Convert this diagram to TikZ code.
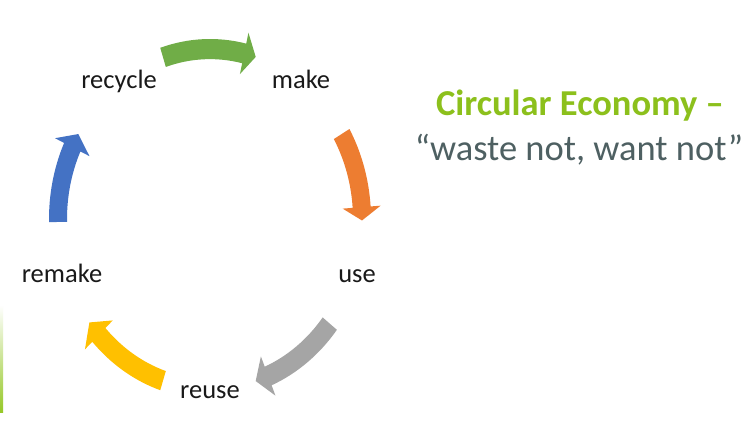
\documentclass[tikz,border=0pt]{standalone}
\usepackage{fontspec}
\setmainfont{Carlito}
\definecolor{agreen}{RGB}{112,173,71}
\definecolor{aorange}{RGB}{237,125,49}
\definecolor{agray}{RGB}{165,165,165}
\definecolor{ayellow}{RGB}{255,192,0}
\definecolor{ablue}{RGB}{68,114,196}
\definecolor{titlegreen}{RGB}{140,192,28}
\definecolor{subgray}{RGB}{78,96,98}
\definecolor{barlime}{RGB}{150,200,40}
\tikzset{
  lbl/.style={anchor=base, inner sep=0pt, text=black!90, font=\fontsize{26.5}{30}\selectfont},
  cyc/.style={fill=#1, draw=none},
}
\newcommand{\cycarrow}[4]{%
  \fill[cyc=#1] (#2:161) arc[start angle=#2, end angle=#3, radius=161]
    -- (#3:171) -- (#4:152) -- (#3:133) -- (#3:143)
    arc[start angle=#3, end angle=#2, radius=143] -- cycle;}
\begin{document}
\begin{tikzpicture}[x=1pt, y=-1pt]
\useasboundingbox (0,0) rectangle (752,442);
\fill[white] (0,0) rectangle (752,442);
% left accent bar
\shade[top color=white, bottom color=barlime] (0,305) rectangle (3,412);
% cycle arrows
\begin{scope}[shift={(210,219)}, x=1pt, y=1.118pt]
  \cycarrow{agreen}{108}{77}{72.5}
  \cycarrow{aorange}{30}{4}{-0.5}
  \cycarrow{agray}{-38}{-67.5}{-72.5}
  \cycarrow{ayellow}{-108}{-137}{-142.5}
  \cycarrow{ablue}{181}{155}{150}
\end{scope}
% labels
\node[lbl] (recycle) at (119,88) {recycle};
\node[lbl] (make) at (301,88) {make};
\node[lbl] (use) at (357,282) {use};
\node[lbl] (reuse) at (210,398) {reuse};
\node[lbl] (remake) at (62,282) {remake};
% title
\node[anchor=base, inner sep=0pt, text=titlegreen, font=\fontsize{36.5}{40}\selectfont\bfseries] (title) at (580,115) {Circular Economy –};
\node[anchor=base, inner sep=0pt, text=subgray, font=\fontsize{36.5}{40}\selectfont] (motto) at (579,160) {“waste not, want not”};
\end{tikzpicture}
\end{document}
